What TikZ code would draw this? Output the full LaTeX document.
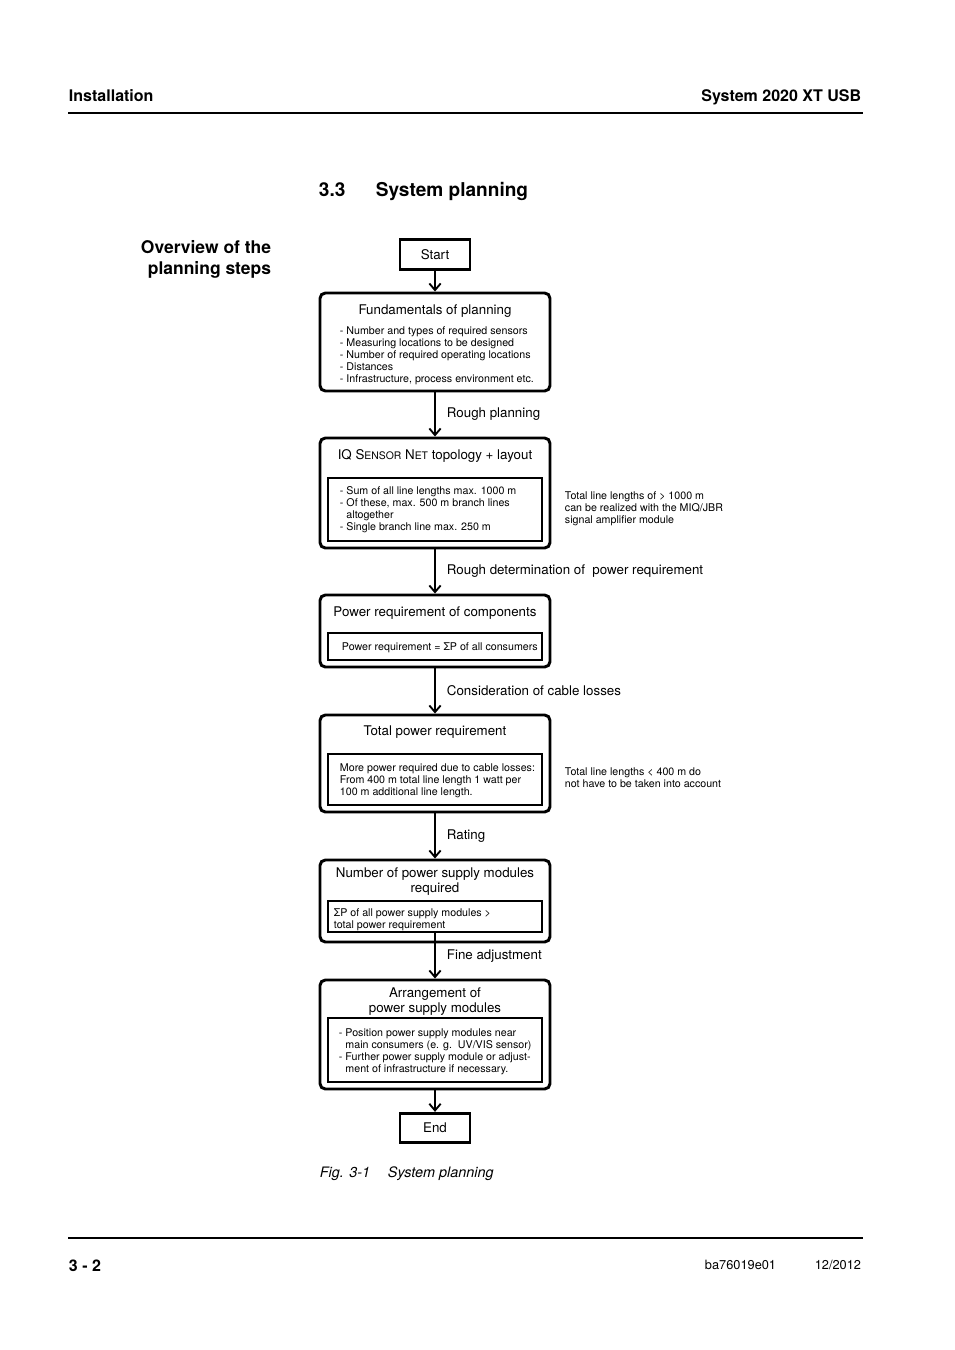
\documentclass[tikz,border=0pt]{standalone}
\usepackage{fontspec}
\setmainfont{TeX Gyre Heros}
\usetikzlibrary{arrows.meta,fit}

\newcommand{\smallcap}[1]{{\fontsize{7.8}{9}\selectfont #1}}

\begin{document}
\begin{tikzpicture}[x=0.75pt,y=-0.75pt,>={Straight Barb[length=5pt,width=8.5pt]},->,line width=1.4pt,auto]
  \tikzstyle{every node}=[inner sep=0pt]
  \tikzstyle{term}=[draw,line width=2.2pt,font=\fontsize{10}{12}\selectfont,minimum width=52.5pt,minimum height=22pt]
  \tikzstyle{phase}=[draw,line width=2.2pt,rounded corners=4pt]
  \tikzstyle{detail}=[draw,line width=1.4pt]
  \tikzstyle{title}=[font=\fontsize{10}{11.25}\selectfont,align=center,anchor=north]
  \tikzstyle{items}=[font=\fontsize{8}{9}\selectfont,align=left,anchor=north west]
  \tikzstyle{lbl}=[font=\fontsize{10}{12}\selectfont,anchor=west,xshift=8.25pt]
  \tikzstyle{head}=[font=\bfseries\fontsize{12}{14}\selectfont]
  \tikzstyle{foot}=[font=\fontsize{9.6}{12}\selectfont]

  \useasboundingbox (0,0) rectangle (954,1350);

  \node[head,anchor=base west] (chapter) at (68,101)  {Installation};
  \node[head,anchor=base east] (product) at (862,101) {System 2020 XT USB};
  \draw[-,line width=0.8pt] (68,113) -- (863,113);

  \node[font=\bfseries\fontsize{14.3}{17}\selectfont,anchor=base west] (secnum)   at (318,196) {3.3};
  \node[font=\bfseries\fontsize{14.3}{17}\selectfont,anchor=base west] (sectitle) at (375,196) {System planning};
  \node[font=\bfseries\fontsize{13.1}{15.75}\selectfont,align=right,anchor=north east] (overview) at (272,240) {Overview of the\\planning steps};

  \node[term] (start) at (435,254.5) {Start};

  \node[phase,fit={(320,293) (550,391)}] (fund) {};
  \node[title] (fundT) at (435,304) {Fundamentals of planning};
  \node[items] (fundL) at (339,326) {- Number and types of required sensors\\- Measuring locations to be designed\\- Number of required operating locations\\- Distances\\- Infrastructure, process environment etc.};

  \node[phase,fit={(320,438) (550,548)}] (topo) {};
  \node[title] (topoT) at (435,449) {IQ S\smallcap{ENSOR} N\smallcap{ET} topology + layout};
  \node[detail,fit={(328,478) (542,541)}] (topoI) {};
  \node[items] (topoL) at (339,486) {- Sum of all line lengths max. 1000 m\\- Of these, max. 500 m branch lines\\\phantom{- }altogether\\- Single branch line max. 250 m};
  \node[items] (topoN) at (564,491) {Total line lengths of > 1000 m\\can be realized with the MIQ/JBR\\signal amplifier module};

  \node[phase,fit={(320,595) (550,667)}] (power) {};
  \node[title] (powerT) at (435,606) {Power requirement of components};
  \node[detail,fit={(328,633) (542,660)}] (powerI) {};
  \node[items] (powerL) at (341,642) {Power requirement = ΣP of all consumers};

  \node[phase,fit={(320,715) (550,812)}] (total) {};
  \node[title] (totalT) at (435,725) {Total power requirement};
  \node[detail,fit={(328,754) (542,805)}] (totalI) {};
  \node[items] (totalL) at (339,763) {More power required due to cable losses:\\From 400 m total line length 1 watt per\\100 m additional line length.};
  \node[items] (totalN) at (564,767) {Total line lengths < 400 m do\\not have to be taken into account};

  \node[phase,fit={(320,860) (550,942)}] (modules) {};
  \node[title] (modulesT) at (435,867) {Number of power supply modules\\required};
  \node[detail,fit={(328,901) (542,932)}] (modulesI) {};
  \node[items] (modulesL) at (333,908) {ΣP of all power supply modules >\\total power requirement};

  \node[phase,fit={(320,980) (550,1089)}] (arrange) {};
  \node[title] (arrangeT) at (435,987) {Arrangement of\\power supply modules};
  \node[detail,fit={(328,1018) (542,1082)}] (arrangeI) {};
  \node[items] (arrangeL) at (338,1028) {- Position power supply modules near\\\phantom{- }main consumers (e. g.\ \ UV/VIS sensor)\\- Further power supply module or adjust-\\\phantom{- }ment of infrastructure if necessary.};

  \node[term] (end) at (435,1128) {End};

  \path (start)    edge (fund)
        (fund)     edge node[lbl] {Rough planning} (topo)
        (topo)     edge node[lbl] {Rough determination of\ \ power requirement} (power)
        (power)    edge node[lbl] {Consideration of cable losses} (total)
        (total)    edge node[lbl] {Rating} (modules)
        (modulesI) edge node[lbl] {Fine adjustment} (arrange)
        (arrange)  edge (end);

  \node[font=\itshape\fontsize{10.8}{13}\selectfont,anchor=base west] (fignum)   at (319,1177) {Fig. 3-1};
  \node[font=\itshape\fontsize{10.8}{13}\selectfont,anchor=base west] (figtitle) at (387,1177) {System planning};

  \draw[-,line width=0.8pt] (68,1238) -- (863,1238);
  \node[head,anchor=base west] (page)  at (68,1271)  {3 - 2};
  \node[foot,anchor=base west] (docno) at (704,1269) {ba76019e01};
  \node[foot,anchor=base east] (date)  at (862,1269) {12/2012};
\end{tikzpicture}
\end{document}
